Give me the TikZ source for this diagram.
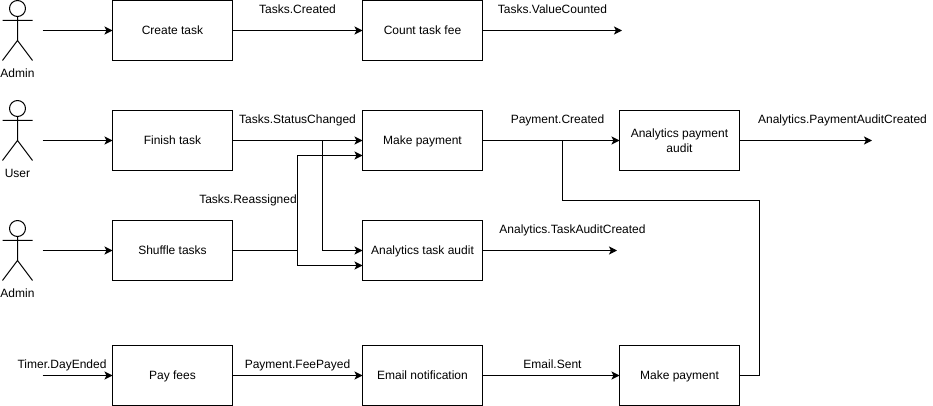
\documentclass[tikz,border=0pt]{standalone}
\usepackage{fontspec}
\setmainfont{Liberation Sans}
\usetikzlibrary{arrows.meta}
\tikzset{
  x=0.75pt,y=-0.75pt,
  every node/.style={font=\fontsize{9pt}{11.25pt}\selectfont},
  box/.style={draw=black,line width=0.75pt,minimum width=90pt,minimum height=45pt,inner sep=0pt,outer sep=0pt,align=center},
  one/.style={text height=6.6pt,text depth=0.8pt},
  lbl/.style={inner sep=0pt,outer sep=0pt,text height=6.6pt,text depth=1.9pt},
  flow/.style={draw=black,line width=0.75pt,-{Stealth[length=6pt,width=6pt,inset=1.5pt]}},
  line/.style={draw=black,line width=0.75pt},
  actor/.pic={
    \draw[line,line join=round] (0,-22) circle[radius=8];
    \draw[line] (0,-14) -- (0,10) (-15,-10) -- (15,-10) (-15,30) -- (0,10) -- (15,30);
  }
}
\begin{document}
\begin{tikzpicture}
\useasboundingbox (0,0) rectangle (933,406);
% actors
\pic at (17.5,30.5) {actor};
\pic at (17.5,130.5) {actor};
\pic at (17.5,250.5) {actor};
\node[lbl] (a1) at (17.5,74.5) {Admin};
\node[lbl] (a2) at (17.5,174.5) {User};
\node[lbl] (a3) at (17.5,294.5) {Admin};
% boxes
\node[box,one] (create) at (172.5,30.5) {Create task};
\node[box,one] (count) at (422.5,30.5) {Count task fee};
\node[box,one] (finish) at (172.5,140.5) {Finish task};
\node[box,one] (makepay) at (422.5,140.5) {Make payment};
\node[box] (apa) at (679.5,140.5) {Analytics payment\\audit};
\node[box,one] (shuffle) at (172.5,250.5) {Shuffle tasks};
\node[box,one] (ata) at (422.5,250.5) {Analytics task audit};
\node[box,one] (fees) at (172.5,375.5) {Pay fees};
\node[box,one] (email) at (422.5,375.5) {Email notification};
\node[box,one] (makepay2) at (679.5,375.5) {Make payment};
% free ends
\coordinate (s1) at (42.5,30.5);
\coordinate (s2) at (42.5,140.5);
\coordinate (s3) at (42.5,250.5);
\coordinate (s4) at (42.5,375.5);
\coordinate (e1) at (622,30.5);
\coordinate (e2) at (872,140.5);
\coordinate (e3) at (617,250.5);
\coordinate (j1) at (322.5,140.5);
\coordinate (j2) at (297.5,250.5);
\coordinate (j3) at (562.5,140.5);
\coordinate (r1) at (759.5,200.5);
\coordinate (mp2) at (362.5,155.5);
\coordinate (at2) at (362.5,265.5);
% connectors
\draw[flow] (s1) -- (create);
\draw[flow] (s2) -- (finish);
\draw[flow] (s3) -- (shuffle);
\draw[flow] (s4) -- (fees);
\draw[flow] (create) -- (count);
\draw[flow] (count) -- (e1);
\draw[flow] (finish) -- (makepay);
\draw[flow] (makepay) -- (apa);
\draw[flow] (apa) -- (e2);
\draw[flow] (ata) -- (e3);
\draw[flow] (fees) -- (email);
\draw[flow] (email) -- (makepay2);
\draw[flow] (j1) |- (ata.west);
\draw[line] (shuffle.east) -- (j2);
\draw[flow] (j2) |- (mp2);
\draw[flow] (j2) |- (at2);
\draw[line,line join=miter] (makepay2.east) -| (r1) -| (j3);
% labels
\node[lbl] (l1) at (297.5,10.5) {Tasks.Created};
\node[lbl] (l2) at (552.5,10.5) {Tasks.ValueCounted};
\node[lbl] (l3) at (297.5,120.5) {Tasks.StatusChanged};
\node[lbl] (l4) at (557.5,120.5) {Payment.Created};
\node[lbl] (l5) at (842.5,120.5) {Analytics.PaymentAuditCreated};
\node[lbl] (l6) at (248,200.5) {Tasks.Reassigned};
\node[lbl] (l7) at (572.5,230.5) {Analytics.TaskAuditCreated};
\node[lbl] (l8) at (62,365) {Timer.DayEnded};
\node[lbl] (l9) at (297.5,365.5) {Payment.FeePayed};
\node[lbl] (l10) at (552.5,365.5) {Email.Sent};
\end{tikzpicture}
\end{document}
